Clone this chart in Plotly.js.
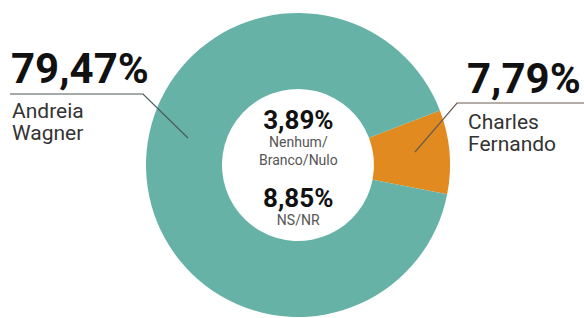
<!DOCTYPE html>
<html>
<head>
<meta charset="utf-8">
<script src="https://cdn.plot.ly/plotly-3.0.1.min.js"></script>
<style>html,body{margin:0;padding:0;background:#fff;}#chart{width:584px;height:318px;}</style>
</head>
<body>
<div id="chart"></div>
<script>
// Data
var candidates = ["Charles Fernando", "Andreia Wagner"];
var candidateValues = [7.79, 79.47];
var candidateLabelsPct = ["7,79%", "79,47%"];
var candidateNameLines = [["Charles", "Fernando"], ["Andreia", "Wagner"]];
var otherNameLines = [["Nenhum/", "Branco/Nulo"], ["NS/NR"]];
var otherValues = [3.89, 8.85];
var otherLabelsPct = ["3,89%", "8,85%"];
var sliceColors = ["#e08a1f", "#67b2a7"];

var W = 584, H = 318;
function px(x){ return x / W; }
function py(y){ return 1 - y / H; }

var cx = 298, cy = 165, R = 152;

var trace = {
  type: "pie",
  labels: candidates,
  values: candidateValues,
  sort: false,
  direction: "clockwise",
  rotation: 69,
  hole: 0.5,
  textinfo: "none",
  hoverinfo: "label+percent",
  marker: {colors: sliceColors, line: {width: 0}},
  domain: {x: [px(cx - R), px(cx + R)], y: [py(cy + R), py(cy - R)]},
  showlegend: false
};

var F = "Roboto, Arial, sans-serif";
function ann(text, x, y, size, color, xanchor, align){
  return {text: text, xref: "paper", yref: "paper",
    x: px(x), y: py(y), xanchor: xanchor || "left", yanchor: "middle", showarrow: false,
    align: align || "left",
    font: {family: F, size: size, color: color}};
}
function sized(t, s, extra){ return '<span style="font-size:' + s + 'px' + (extra || '') + '">' + t + '</span>'; }

var annotations = [
  ann("<b>" + candidateLabelsPct[1] + "</b>", 9, 68.5, 42, "#111"),
  ann(candidateNameLines[1].map(function(t){return sized(t, 21);}).join("<br>"), 10, 122, 17, "#333"),
  ann("<b>" + candidateLabelsPct[0] + "</b>", 465, 78.5, 42, "#111"),
  ann(candidateNameLines[0].map(function(t){return sized(t, 21);}).join("<br>"), 466, 133, 17, "#333"),
  ann(sized("<b>" + otherLabelsPct[0] + "</b>", 26, ";color:#111") + "<br>" + otherNameLines[0].join("<br>"),
      298, 136, 14, "#555", "center", "center"),
  ann(sized("<b>" + otherLabelsPct[1] + "</b>", 26, ";color:#111") + "<br>" + otherNameLines[1][0],
      298, 205, 14, "#555", "center", "center")
];

var shapes = [
  {type: "path", xref: "paper", yref: "paper",
   path: "M " + px(10) + " " + py(94) + " L " + px(143) + " " + py(94) + " L " + px(188) + " " + py(138),
   line: {color: "#4a5a58", width: 1.2}},
  {type: "path", xref: "paper", yref: "paper",
   path: "M " + px(415) + " " + py(152) + " L " + px(457) + " " + py(103) + " L " + px(584) + " " + py(103),
   line: {color: "#6a5a50", width: 1.2}}
];

var layout = {
  width: W, height: H,
  margin: {l: 0, r: 0, t: 0, b: 0},
  paper_bgcolor: "#fff", plot_bgcolor: "#fff",
  annotations: annotations,
  shapes: shapes
};
Plotly.newPlot("chart", [trace], layout, {displayModeBar: false, staticPlot: true});
</script>
</body>
</html>
